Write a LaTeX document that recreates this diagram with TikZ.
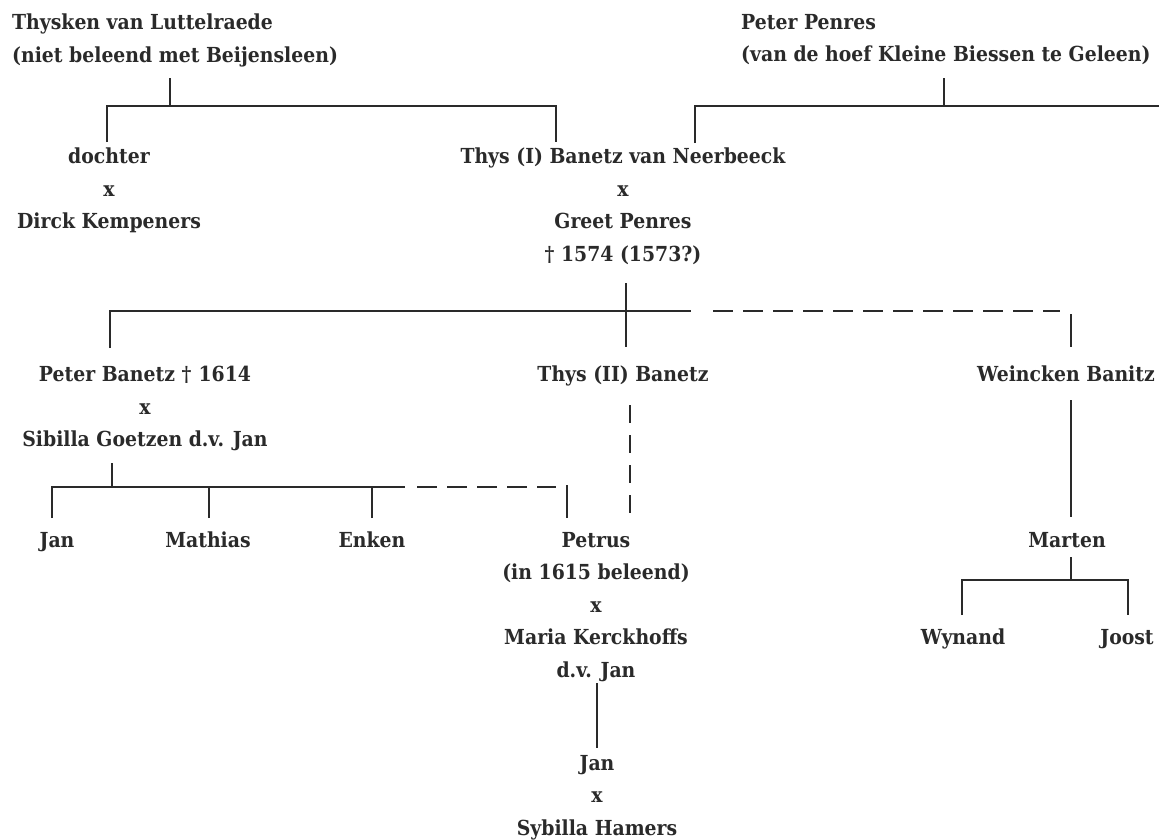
\documentclass[tikz,border=0pt]{standalone}
\usepackage{fontspec}
\setmainfont{DejaVu Serif}[BoldFeatures={FakeStretch=0.91}]
\usetikzlibrary{positioning}
\definecolor{ink}{HTML}{2A2A2A}
\tikzset{
  person/.style={inner sep=0pt, align=center, anchor=north, text=ink,
    font=\fontsize{20.7}{32.5}\selectfont\bfseries},
  link/.style={draw=ink, line width=1.4pt},
  heavylink/.style={draw=ink, line width=2.3pt},
  maybe/.style={draw=ink, line width=1.5pt, dash pattern=on 20pt off 10pt},
  maybedown/.style={draw=ink, line width=1.8pt, dash pattern=on 18pt off 12pt},
}
\begin{document}
\begin{tikzpicture}[x=1pt,y=-1pt]
\useasboundingbox (0,0) rectangle (1159,839);

% first generation
\node[person, anchor=north west, align=left] (thysken) at (12,14)
  {Thysken van Luttelraede\\(niet beleend met Beijensleen)};
\node[person, anchor=north west, align=left] (penres) at (741,14)
  {Peter Penres\\(van de hoef Kleine Biessen te Geleen)};

% second generation
\node[person] (dochter) at (109,148) {dochter\\x\\Dirck Kempeners};
\node[person] (thysI) at (623,148)
  {Thys (I) Banetz van Neerbeeck\\x\\Greet Penres\\† 1574 (1573?)};

% third generation
\node[person] (peter) at (145,366)
  {Peter Banetz †\hspace{0.35em}1614\\x\\Sibilla Goetzen d.v. Jan};
\node[person] (thysII) at (623,366) {Thys (II) Banetz};
\node[person] (weincken) at (1066,366) {Weincken Banitz};

% fourth generation
\node[person] (jan) at (57,532) {Jan};
\node[person] (mathias) at (208,532) {Mathias};
\node[person] (enken) at (372,532) {Enken};
\node[person] (petrus) at (596,532)
  {Petrus\\(in 1615 beleend)\\x\\Maria Kerckhoffs\\d.v. Jan};
\node[person] (marten) at (1067,532) {Marten};
\node[person] (wynand) at (963,629) {Wynand};
\node[person] (joost) at (1127,629) {Joost};
\node[person] (janII) at (597,755) {Jan\\x\\Sybilla Hamers};

% junctions
\coordinate (thysken-s) at (170,78);
\coordinate (thysken-bar) at (170,106);
\coordinate (dochter-n) at (107,142);
\coordinate (thysI-n) at (556,142);
\coordinate (penres-s) at (944,78);
\coordinate (penres-bar) at (944,106);
\coordinate (penres-end) at (1159,106);
\coordinate (greet-n) at (695,143);
\coordinate (thysI-s) at (626,283);
\coordinate (thysII-n) at (626,347);
\coordinate (peter-n) at (110,348);
\coordinate (solid-end) at (691,311);
\coordinate (dash-start) at (713,311);
\coordinate (dash-end) at (1060,311);
\coordinate (weincken-top) at (1071,314);
\coordinate (weincken-n) at (1071,347);
\coordinate (peter-s) at (112,463);
\coordinate (peter-bar) at (112,487);
\coordinate (jan-n) at (52,518);
\coordinate (mathias-n) at (209,518);
\coordinate (enken-n) at (372,518);
\coordinate (kids-end) at (405,487);
\coordinate (kids-dash) at (417,487);
\coordinate (kids-dashend) at (556,487);
\coordinate (petrus-top) at (567,485);
\coordinate (petrus-n) at (567,518);
\coordinate (thysII-s) at (630,405);
\coordinate (petrus-ne) at (630,515);
\coordinate (weincken-s) at (1071,400);
\coordinate (marten-n) at (1071,517);
\coordinate (marten-s) at (1071,557);
\coordinate (marten-bar) at (1071,580);
\coordinate (wynand-n) at (962,615);
\coordinate (joost-n) at (1128,615);
\coordinate (petrus-s) at (597,683);
\coordinate (janII-n) at (597,748);

% connectors
\draw[link] (thysken-s) -- (thysken-bar);
\draw[link] (dochter-n) |- (thysken-bar) -| (thysI-n);
\draw[link] (penres-s) -- (penres-bar);
\draw[link] (greet-n) |- (penres-end);
\draw[link] (thysI-s) -- (thysII-n);
\draw[link] (peter-n) |- (solid-end);
\draw[maybe] (dash-start) -- (dash-end);
\draw[link] (weincken-top) -- (weincken-n);
\draw[link] (peter-s) -- (peter-bar);
\draw[link] (jan-n) |- (kids-end);
\draw[link] (mathias-n) -- (mathias-n |- peter-bar);
\draw[link] (enken-n) -- (enken-n |- peter-bar);
\draw[maybe] (kids-dash) -- (kids-dashend);
\draw[heavylink] (petrus-top) -- (petrus-n);
\draw[maybedown] (thysII-s) -- (petrus-ne);
\draw[heavylink] (weincken-s) -- (marten-n);
\draw[link] (marten-s) -- (marten-bar);
\draw[link] (wynand-n) |- (marten-bar) -| (joost-n);
\draw[heavylink] (petrus-s) -- (janII-n);
\end{tikzpicture}
\end{document}
